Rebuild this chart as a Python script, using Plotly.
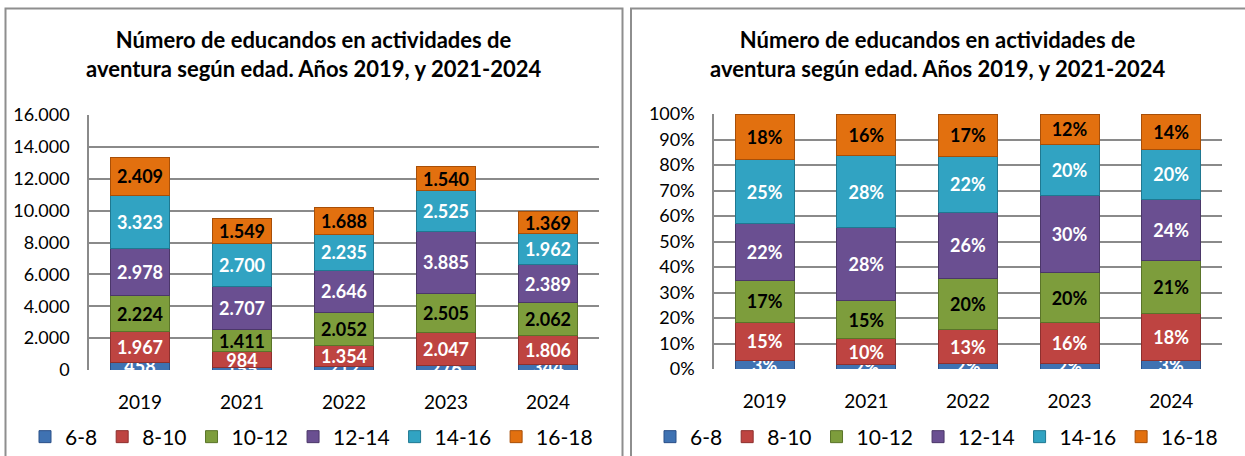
import plotly.graph_objects as go

# ---------------- data ----------------
years = ["2019", "2021", "2022", "2023", "2024"]
groups = ["6-8", "8-10", "10-12", "12-14", "14-16", "16-18"]
v_6_8 = [458, 155, 212, 276, 344]
v_8_10 = [1967, 984, 1354, 2047, 1806]
v_10_12 = [2224, 1411, 2052, 2505, 2062]
v_12_14 = [2978, 2707, 2646, 3885, 2389]
v_14_16 = [3323, 2700, 2235, 2525, 1962]
v_16_18 = [2409, 1549, 1688, 1540, 1369]
title_text = "Número de educandos en actividades de<br>aventura según edad. Años 2019, y 2021-2024"

series = [v_6_8, v_8_10, v_10_12, v_12_14, v_14_16, v_16_18]

# ---------------- styles ----------------
W, H = 1245, 456
fills = ["#3F72B2", "#BE4441", "#7D9D3C", "#6A4F91", "#31A3C2", "#E2700F"]
lines = ["#2A5088", "#8E302E", "#5A7429", "#4B3769", "#1F7891", "#A84F08"]
txtcol = ["white", "white", "black", "white", "white", "black"]
FONT = "Lato, Carlito, Calibri, sans-serif"

totals = [sum(s[i] for s in series) for i in range(len(years))]


def fmt_thousands(v):
    return f"{v:,}".replace(",", ".")


fig = go.Figure()

for k, (g, vals) in enumerate(zip(groups, series)):
    fig.add_trace(go.Bar(
        x=years, y=vals, name=g,
        marker=dict(color=fills[k], line=dict(color=lines[k], width=1)),
        text=[fmt_thousands(v) for v in vals],
        textposition="inside", insidetextanchor="middle", constraintext="none",
        textangle=0,
        textfont=dict(family=FONT, size=18, color=txtcol[k], weight="bold"),
        cliponaxis=True, legend="legend", xaxis="x", yaxis="y",
        hoverinfo="skip",
    ))

for k, (g, vals) in enumerate(zip(groups, series)):
    pct = [100.0 * v / t for v, t in zip(vals, totals)]
    fig.add_trace(go.Bar(
        x=years, y=pct, name=g,
        marker=dict(color=fills[k], line=dict(color=lines[k], width=1)),
        text=[f"{round(p):d}%" for p in pct],
        textposition="inside", insidetextanchor="middle", constraintext="none",
        textangle=0,
        textfont=dict(family=FONT, size=18, color=txtcol[k], weight="bold"),
        cliponaxis=True, legend="legend2", xaxis="x2", yaxis="y2",
        hoverinfo="skip",
    ))


def px_x(p):
    return p / W


def px_y(p):
    return (H - p) / H


grid = "#8A8A8A"
tickfont = dict(family=FONT, size=18, color="black")
xtickfont = dict(family=FONT, size=19, color="black")
legfont = dict(family=FONT, size=21, color="black")

fig.update_layout(
    width=W, height=H,
    margin=dict(l=0, r=0, t=0, b=0, autoexpand=False),
    paper_bgcolor="white", plot_bgcolor="white",
    barmode="stack", bargap=0.42,
    separators=",.",
    showlegend=True,
    xaxis=dict(domain=[px_x(89), px_x(599)], anchor="y", showgrid=False,
               showline=False, ticks="", tickfont=xtickfont,
               ticklabelstandoff=19, fixedrange=True),
    yaxis=dict(domain=[px_y(370), px_y(115)], anchor="x", range=[0, 16000],
               dtick=2000, tickformat=",d", showgrid=True, gridcolor=grid,
               gridwidth=1.5, showline=True, linecolor=grid, linewidth=1.5,
               zeroline=False, ticks="", tickfont=tickfont, ticklabelstandoff=14,
               fixedrange=True),
    xaxis2=dict(domain=[px_x(714), px_x(1222)], anchor="y2", showgrid=False,
                showline=False, ticks="", tickfont=xtickfont,
                ticklabelstandoff=19, fixedrange=True),
    yaxis2=dict(domain=[px_y(369), px_y(114)], anchor="x2", range=[0, 100],
                dtick=10, ticksuffix="%", showgrid=True, gridcolor=grid,
                gridwidth=1.5, showline=True, linecolor=grid, linewidth=1.5,
                zeroline=False, ticks="", tickfont=tickfont, ticklabelstandoff=14,
                fixedrange=True),
    legend=dict(orientation="h", x=px_x(25), y=px_y(437), xanchor="left",
                yanchor="middle", traceorder="normal", font=legfont,
                bgcolor="rgba(0,0,0,0)", itemwidth=30),
    legend2=dict(orientation="h", x=px_x(650), y=px_y(437), xanchor="left",
                 yanchor="middle", traceorder="normal", font=legfont,
                 bgcolor="rgba(0,0,0,0)", itemwidth=30),
    shapes=[
        dict(type="rect", xref="paper", yref="paper",
             x0=px_x(5.5), x1=px_x(622.5), y0=px_y(470), y1=px_y(8.5),
             line=dict(color="#8E8E8E", width=2), fillcolor="rgba(0,0,0,0)",
             layer="below"),
        dict(type="rect", xref="paper", yref="paper",
             x0=px_x(631), x1=px_x(1260), y0=px_y(470), y1=px_y(8.5),
             line=dict(color="#8E8E8E", width=2), fillcolor="rgba(0,0,0,0)",
             layer="below"),
    ],
    annotations=[
        dict(text="<b>" + title_text + "</b>", xref="paper", yref="paper",
             x=px_x(313), y=px_y(53.5), xanchor="center", yanchor="middle",
             showarrow=False, align="center",
             font=dict(family=FONT, size=22, color="black")),
        dict(text="<b>" + title_text + "</b>", xref="paper", yref="paper",
             x=px_x(937), y=px_y(53.5), xanchor="center", yanchor="middle",
             showarrow=False, align="center",
             font=dict(family=FONT, size=22, color="black")),
    ],
)

fig.write_html("out.html",
               config={"displayModeBar": False, "staticPlot": False},
               post_script="document.body.style.margin='0';document.body.style.overflow='hidden';")
